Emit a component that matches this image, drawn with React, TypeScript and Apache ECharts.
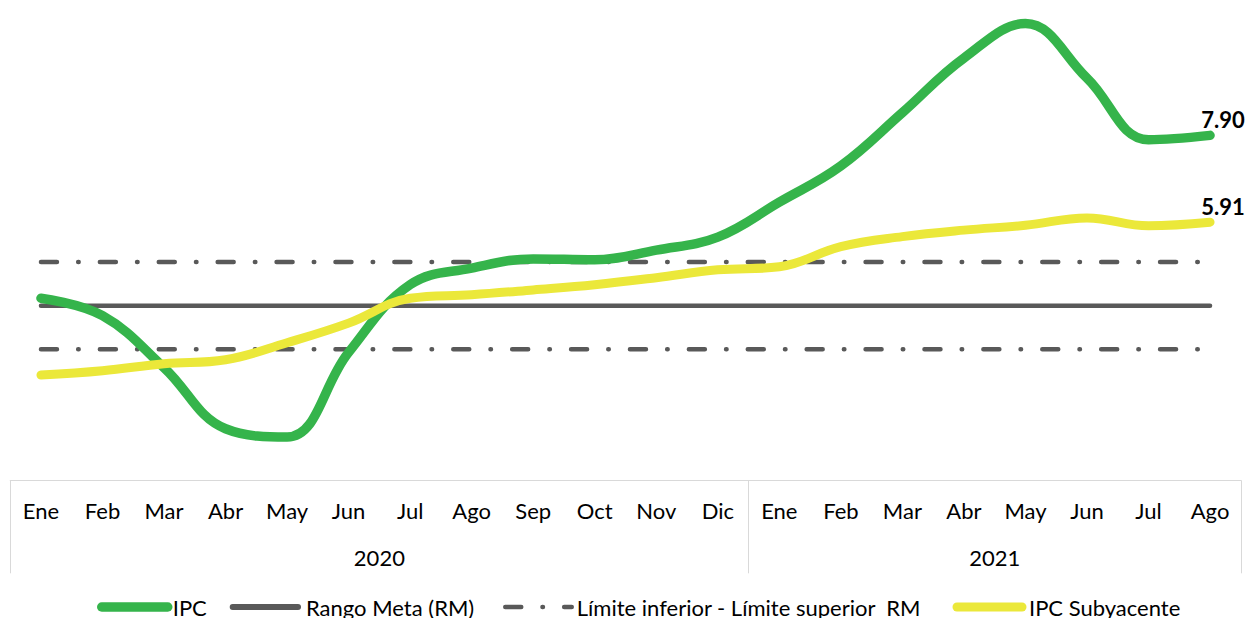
import React, { useEffect, useRef } from "react";
import * as echarts from "echarts";

const months = ["Ene", "Feb", "Mar", "Abr", "May", "Jun", "Jul", "Ago", "Sep", "Oct", "Nov", "Dic",
  "Ene", "Feb", "Mar", "Abr", "May", "Jun", "Jul", "Ago"];
const years = ["2020", "2021"];
const monthsPerYear = [12, 8];

const ipc = [4.17, 3.77, 2.58, 1.18, 0.99, 2.93, 4.48, 4.86, 5.07, 5.05, 5.27, 5.57,
  6.37, 7.2, 8.42, 9.67, 10.46, 9.21, 7.8, 7.9];
const ipcSub = [2.41, 2.51, 2.67, 2.76, 3.15, 3.6, 4.17, 4.25, 4.36, 4.48, 4.64, 4.82,
  4.89, 5.35, 5.58, 5.73, 5.84, 6.01, 5.83, 5.91];
const metaCentro = 4;
const metaInferior = 3;
const metaSuperior = 5;

const FONT = "Lato, 'Noto Sans', sans-serif";
const GREEN = "#35B44B";
const YELLOW = "#EBE83A";
const GRAY = "#595959";

export default function App() {
  const ref = useRef<HTMLDivElement>(null);
  useEffect(() => {
    if (!ref.current) return;
    const chart = echarts.init(ref.current, null, { renderer: "svg" });
    const n = months.length;
    const constant = (v: number) => months.map(() => v);
    const withEndLabel = (arr: number[]) =>
      arr.map((v, i) =>
        i === arr.length - 1
          ? {
              value: v,
              label: {
                show: true,
                position: "top",
                offset: [13, 0],
                distance: 4,
                formatter: (p: any) => Number(p.value).toFixed(2),
                fontFamily: FONT,
                fontSize: 22,
                fontWeight: "bold",
                color: "#000",
              },
            }
          : v
      );
    const bounds: number[] = [0];
    const centers: number[] = [];
    monthsPerYear.forEach((c) => {
      const s = bounds[bounds.length - 1];
      centers.push(s + c / 2);
      bounds.push(s + c);
    });
    const limName = "Límite inferior - Límite superior  RM";
    const dashArr = [16, 21.2, 0.5, 21.2];
    const dashStyle = { color: GRAY, width: 4.5, type: dashArr, cap: "round" };
    const legendBase = {
      top: 596,
      padding: 0,
      itemHeight: 10,
      itemStyle: { color: "rgba(0,0,0,0)", borderWidth: 0 },
      selectedMode: false,
    };
    const legendText = (pad: number) => ({
      fontFamily: FONT,
      fontSize: 22,
      color: "#000",
      padding: [0, 0, 0, pad],
    });
    chart.setOption({
      animation: false,
      grid: { left: 10.2, right: 9.2, top: -3.5, bottom: 137.7, containLabel: false },
      xAxis: [
        {
          type: "category",
          data: months,
          position: "bottom",
          boundaryGap: true,
          axisLine: { show: true, lineStyle: { color: "#D9D9D9", width: 1 } },
          axisTick: { show: false },
          splitLine: { show: false },
          axisLabel: { interval: 0, margin: 19, fontFamily: FONT, fontSize: 22, color: "#000" },
        },
        {
          type: "value",
          min: 0,
          max: n,
          position: "bottom",
          offset: 0,
          axisLine: { show: false },
          splitLine: { show: false },
          axisTick: {
            show: true,
            customValues: bounds,
            length: 93,
            lineStyle: { color: "#D9D9D9", width: 1 },
          },
          axisLabel: {
            show: true,
            customValues: centers,
            formatter: (v: number) => {
              const idx = centers.indexOf(v);
              return idx >= 0 ? years[idx] : "";
            },
            margin: 66,
            fontFamily: FONT,
            fontSize: 22,
            color: "#000",
          },
        },
      ],
      yAxis: { type: "value", min: 0, max: 11, show: false },
      legend: [
        {
          ...legendBase,
          left: 97,
          itemWidth: 66,
          lineStyle: { width: 9.5, cap: "round" },
          textStyle: legendText(0),
          data: ["IPC"],
        },
        {
          ...legendBase,
          left: 229.7,
          itemWidth: 65.3,
          lineStyle: { width: 6, cap: "round" },
          textStyle: legendText(3),
          data: ["Rango Meta (RM)"],
        },
        {
          ...legendBase,
          left: 503,
          itemWidth: 66.5,
          lineStyle: { width: 4.5, cap: "round", type: dashArr },
          textStyle: legendText(0),
          data: [limName],
        },
        {
          ...legendBase,
          left: 952.5,
          itemWidth: 65,
          lineStyle: { width: 9, cap: "round" },
          textStyle: legendText(2),
          data: ["IPC Subyacente"],
        },
      ],
      series: [
        {
          name: limName,
          type: "line",
          data: constant(metaSuperior),
          symbol: "none",
          lineStyle: dashStyle,
          itemStyle: { color: GRAY },
          z: 1,
        },
        {
          name: limName,
          type: "line",
          data: constant(metaInferior),
          symbol: "none",
          lineStyle: dashStyle,
          itemStyle: { color: GRAY },
          z: 1,
        },
        {
          name: "Rango Meta (RM)",
          type: "line",
          data: constant(metaCentro),
          symbol: "none",
          lineStyle: { color: GRAY, width: 4.5, cap: "round" },
          itemStyle: { color: GRAY },
          z: 1,
        },
        {
          name: "IPC",
          type: "line",
          data: withEndLabel(ipc),
          symbol: "circle",
          symbolSize: 1,
          showSymbol: true,
          showAllSymbol: true,
          smooth: 0.4,
          lineStyle: { color: GREEN, width: 9.5, cap: "round", join: "round" },
          itemStyle: { color: GREEN },
          z: 2,
        },
        {
          name: "IPC Subyacente",
          type: "line",
          data: withEndLabel(ipcSub),
          symbol: "circle",
          symbolSize: 1,
          showSymbol: true,
          showAllSymbol: true,
          smooth: 0.4,
          lineStyle: { color: YELLOW, width: 9, cap: "round", join: "round" },
          itemStyle: { color: YELLOW },
          z: 3,
        },
      ],
    });
    return () => chart.dispose();
  }, []);
  return (
    <div
      ref={ref}
      style={{ position: "fixed", left: 0, top: 0, width: 1250, height: 618, background: "#fff" }}
    />
  );
}
